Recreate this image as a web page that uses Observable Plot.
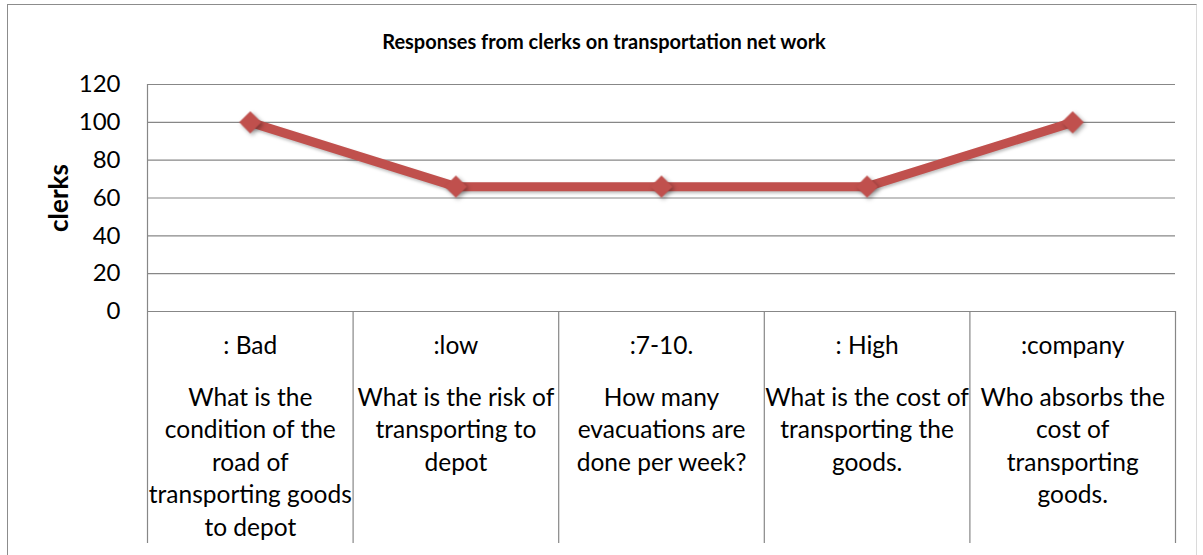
<!DOCTYPE html>
<html>
<head>
<meta charset="utf-8">
<script src="https://cdn.jsdelivr.net/npm/d3@7"></script>
<script src="https://cdn.jsdelivr.net/npm/@observablehq/plot@0.6"></script>
<style>
  html, body { margin: 0; padding: 0; background: #fff; overflow: hidden; }
  #chart { position: relative; width: 1203px; height: 555px; overflow: hidden; }
  #chart svg { position: absolute; left: 0; top: 0; }
  #border {
    position: absolute; left: 7px; top: 4px; width: 1190px; height: 620px;
    border-left: 1.5px solid #8c8c8c; border-top: 1.5px solid #8c8c8c;
    border-right: 1px solid #dadada; box-sizing: border-box;
  }
</style>
</head>
<body>
<div id="chart"><div id="border"></div></div>
<script>
// Chart text and values
const title = "Responses from clerks on transportation net work";
const yLabel = "clerks";
const answers = [": Bad", ":low", ":7-10.", ": High", ":company"];
const questions = [
  "What is the\ncondition of the\nroad of\ntransporting goods\nto depot",
  "What is the risk of\ntransporting to\ndepot",
  "How many\nevacuations are\ndone per week?",
  "What is the cost of\ntransporting the\ngoods.",
  "Who absorbs the\ncost of\ntransporting\ngoods."
];
const clerks = [100, 66, 66, 66, 100];
const yTicks = [0, 20, 40, 60, 80, 100, 120];

const rows = answers.map((answer, i) => ({i, answer, question: questions[i], clerks: clerks[i]}));
// category cell edges sit halfway between category positions
const edges = d3.range(answers.length + 1).map(k => k - 0.5);

const W = 1203, H = 555;
const mTop = 84, mBottom = 244, mLeft = 147, mRight = 28;
const plotH = H - mTop - mBottom;
const grid = "#878787";
const red = "#C0504D";
const font = "Lato, 'Open Sans', sans-serif";
const labelSize = 24.5;

const svg = Plot.plot({
  width: W,
  height: H,
  marginTop: mTop,
  marginBottom: mBottom,
  marginLeft: mLeft,
  marginRight: mRight,
  style: {fontFamily: font, color: "#000", background: "transparent"},
  x: {type: "linear", domain: [-0.5, answers.length - 0.5], axis: null},
  y: {domain: [0, 120], axis: null},
  marks: [
    // horizontal gridlines (incl. the zero baseline)
    Plot.gridY(yTicks, {stroke: grid, strokeOpacity: 1, strokeWidth: 1.2}),
    // value axis line
    Plot.ruleX([edges[0]], {stroke: grid, strokeWidth: 1.2}),
    // category cell separators below the baseline
    Plot.ruleX(edges, {stroke: grid, strokeWidth: 1.2, insetTop: plotH, insetBottom: -232}),
    Plot.axisY(yTicks, {tickSize: 0, tickPadding: 27, fontSize: 24, fill: "#000", label: null}),
    // y axis title
    Plot.text([yLabel], {frameAnchor: "left", textAnchor: "middle", dx: -88, rotate: -90, fontSize: 26, fontWeight: "bold", fill: "#000"}),
    // chart title
    Plot.text([title], {frameAnchor: "top", dy: -50, dx: -57.5, fontSize: 20, fontWeight: "bold", fill: "#000"}),
    // two-level category labels
    Plot.text(rows, {x: "i", text: "answer", frameAnchor: "bottom", dy: 42, fontSize: labelSize, fill: "#000"}),
    Plot.text(rows, {x: "i", text: "question", frameAnchor: "bottom", lineAnchor: "top", dy: 71, lineHeight: 32.5 / labelSize, fontSize: labelSize, fill: "#000"}),
    // series
    Plot.line(rows, {x: "i", y: "clerks", stroke: red, strokeWidth: 9, strokeLinejoin: "round"}),
    Plot.dot(rows, {x: "i", y: "clerks", symbol: "diamond2", r: 10, fill: red, stroke: "none"})
  ]
});

svg.querySelectorAll('[aria-label="dot"]').forEach(g => g.style.filter = "drop-shadow(2px 2px 2px rgba(0,0,0,0.35))");
svg.querySelectorAll('[aria-label="line"]').forEach(g => g.style.filter = "drop-shadow(1px 2px 1.5px rgba(0,0,0,0.25))");

document.getElementById("chart").appendChild(svg);
</script>
</body>
</html>
